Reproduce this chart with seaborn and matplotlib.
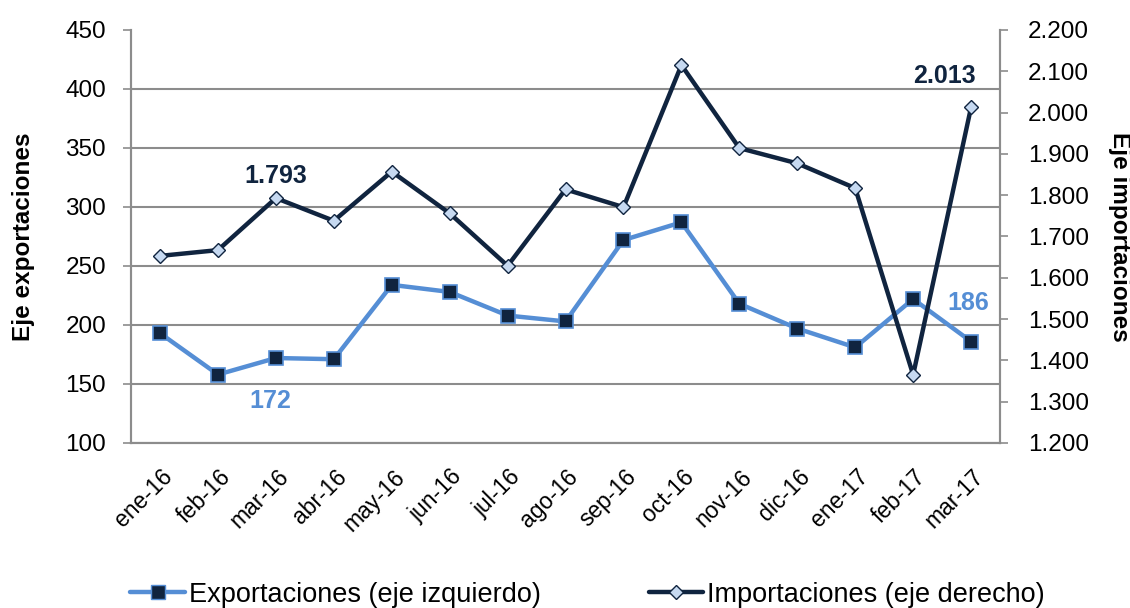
import numpy as np
import pandas as pd
import matplotlib
matplotlib.use("Agg")
import matplotlib.pyplot as plt
import matplotlib.transforms as mtransforms
from matplotlib.lines import Line2D
import seaborn as sns

# data
meses = ["ene-16", "feb-16", "mar-16", "abr-16", "may-16", "jun-16", "jul-16", "ago-16",
         "sep-16", "oct-16", "nov-16", "dic-16", "ene-17", "feb-17", "mar-17"]
exportaciones = [193, 158, 172, 171, 234, 228, 208, 203, 272, 287, 218, 197, 181, 222, 186]
importaciones = [1653, 1667, 1793, 1738, 1857, 1756, 1629, 1814, 1771, 2115, 1914, 1877, 1817, 1365, 2013]

AZUL = "#558ED5"
NAVY = "#10243F"
CLARO = "#C6D9F1"
GRIS = "#8C8C8C"

sns.set_style("white")
plt.rcParams["font.family"] = ["Liberation Sans", "DejaVu Sans"]
plt.rcParams["text.color"] = "black"
plt.rcParams["xtick.color"] = "black"
plt.rcParams["ytick.color"] = "black"
plt.rcParams["axes.labelcolor"] = "black"

df = pd.DataFrame({"pos": np.arange(len(meses)), "exp": exportaciones, "imp": importaciones})

fig = plt.figure(figsize=(11.3, 6.08), dpi=100)
ax = fig.add_axes([0.116, 0.2714, 0.769, 0.6793])
ax2 = ax.twinx()

sns.lineplot(data=df, x="pos", y="exp", ax=ax, color=AZUL, linewidth=3.2,
             marker="s", markersize=10.5, markerfacecolor=NAVY, markeredgecolor=AZUL,
             markeredgewidth=1.2, zorder=3)
sns.lineplot(data=df, x="pos", y="imp", ax=ax2, color=NAVY, linewidth=3.2,
             marker="D", markersize=7, markerfacecolor=CLARO, markeredgecolor=NAVY,
             markeredgewidth=1.0, zorder=3)

# left axis
ax.set_ylim(100, 450)
ax.set_yticks(np.arange(100, 451, 50))
ax.set_xlim(-0.5, len(meses) - 0.5)
ax.set_xticks(df["pos"])
ax.set_xticklabels(meses, rotation=45, ha="right", rotation_mode="anchor")
ax.set_xticks(np.arange(-0.5, len(meses), 1), minor=True)
ax.tick_params(axis="x", which="major", length=0, pad=16, labelsize=16.5)
ax.tick_params(axis="x", which="minor", length=7, width=1.2, color=GRIS)
ax.tick_params(axis="y", length=6, width=1.2, color=GRIS, labelcolor="black", labelsize=17.5, pad=12)
shift = mtransforms.ScaledTranslation(1 / 100, 0, fig.dpi_scale_trans)
for lbl in ax.get_xticklabels():
    lbl.set_transform(lbl.get_transform() + shift)
ax.grid(axis="y", color=GRIS, linewidth=1.5)
ax.get_ygridlines()[-1].set_visible(False)
ax.set_xlabel("")
ax.set_ylabel("Eje exportaciones", fontsize=17.5, fontweight="bold", labelpad=22)

# right axis
ax2.set_ylim(1200, 2200)
ax2.set_yticks(np.arange(1200, 2201, 100))
ax2.set_yticklabels([f"{v:,}".replace(",", ".") for v in range(1200, 2201, 100)])
ax2.tick_params(axis="y", length=6, width=1.2, color=GRIS, labelcolor="black", labelsize=17.5, pad=14)
ax2.set_ylabel("Eje importaciones", fontsize=17.5, fontweight="bold", rotation=270, labelpad=30)

for a in (ax, ax2):
    a.spines["top"].set_visible(False)
    for s in ("left", "right", "bottom"):
        a.spines[s].set_color(GRIS)
        a.spines[s].set_linewidth(1.5)

# data labels
ax2.annotate("1.793", xy=(2, importaciones[2]), xytext=(0, 7), textcoords="offset points",
             ha="center", va="bottom", fontsize=18, fontweight="bold", color=NAVY)
ax2.annotate("2.013", xy=(14, importaciones[14]), xytext=(-19, 14), textcoords="offset points",
             ha="center", va="bottom", fontsize=18, fontweight="bold", color=NAVY)
ax.annotate("172", xy=(2, exportaciones[2]), xytext=(-4, -22), textcoords="offset points",
            ha="center", va="top", fontsize=18, fontweight="bold", color=AZUL)
ax.annotate("186", xy=(14, exportaciones[14]), xytext=(-2, 19), textcoords="offset points",
            ha="center", va="bottom", fontsize=18, fontweight="bold", color=AZUL)

handles = [
    Line2D([], [], color=AZUL, linewidth=3.2, marker="s", markersize=10,
           markerfacecolor=NAVY, markeredgecolor=AZUL),
    Line2D([], [], color=NAVY, linewidth=3.2, marker="D", markersize=7,
           markerfacecolor=CLARO, markeredgecolor=NAVY),
]
fig.legend(handles, ["Exportaciones (eje izquierdo)", "Importaciones (eje derecho)"],
           loc="lower center", bbox_to_anchor=(0.52, -0.04), ncol=2, frameon=False,
           fontsize=19.5, handlelength=2.0, handletextpad=0.15, columnspacing=4.0)

fig.savefig("out.png", dpi=100)
